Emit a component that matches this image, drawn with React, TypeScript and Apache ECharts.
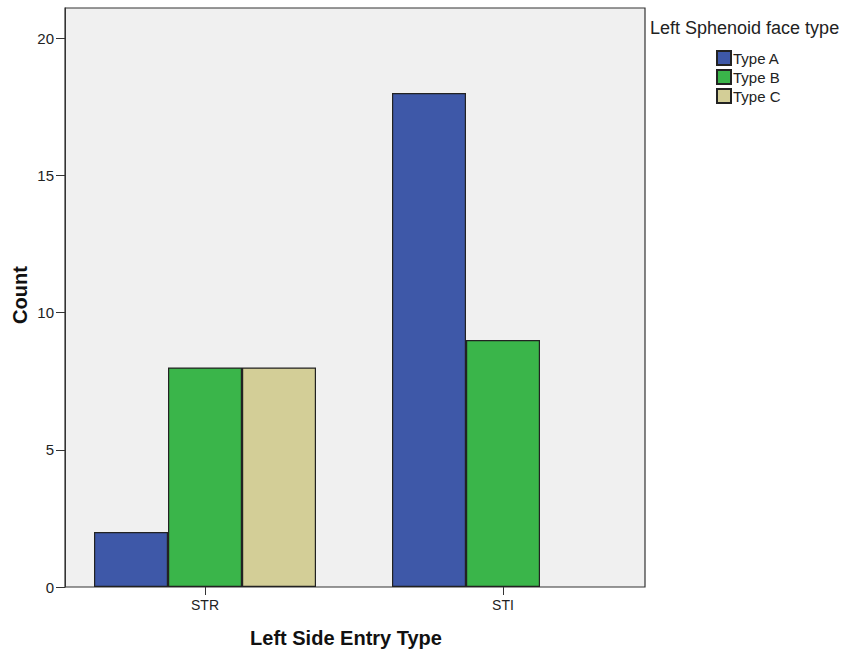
import React, { useEffect, useRef } from "react";
import * as echarts from "echarts";

const categories = ["STR", "STI"];
const seriesNames = ["Type A", "Type B", "Type C"];
const typeA = [2, 18];
const typeB = [8, 9];
const typeC = [8, 0];
const yTicks = [0, 5, 10, 15, 20];
const colors = ["#3e58a8", "#3ab54a", "#d3ce97"];

export default function App() {
  const ref = useRef<HTMLDivElement>(null);
  useEffect(() => {
    if (!ref.current) return;
    const chart = echarts.init(ref.current, null, { renderer: "svg" });
    const font = "Arial, 'Liberation Sans', sans-serif";
    const values = [typeA, typeB, typeC];
    chart.setOption({
      animation: false,
      backgroundColor: "#ffffff",
      textStyle: { fontFamily: font },
      grid: [
        { left: 65, right: 199, top: 8, bottom: 67, show: true, backgroundColor: "#f0f0f0", borderColor: "#333", borderWidth: 1.2 },
        { left: 56, width: 596, top: 8, bottom: 67, show: false },
      ],
      xAxis: [
        { type: "value", gridIndex: 0, min: 0, max: 1, show: false },
        {
          type: "category",
          gridIndex: 1,
          data: categories,
          axisLine: { show: false },
          axisTick: { show: true, alignWithLabel: true, length: 8, lineStyle: { color: "#333" } },
          axisLabel: { color: "#222", fontSize: 14, fontFamily: font, margin: 11 },
        },
      ],
      yAxis: [
        {
          type: "value",
          gridIndex: 0,
          min: 0,
          max: 21.1,
          splitLine: { show: false },
          axisLine: { show: true, lineStyle: { color: "#333" } },
          axisTick: { show: true, length: 9, customValues: yTicks, lineStyle: { color: "#333" } },
          axisLabel: { color: "#222", fontSize: 15, fontFamily: font, margin: 11, customValues: yTicks },
        },
        { type: "value", gridIndex: 1, min: 0, max: 21.1, show: false },
      ],
      legend: {
        orient: "vertical",
        left: 711,
        top: 45,
        itemWidth: 14,
        itemHeight: 14,
        itemGap: 3,
        icon: "rect",
        data: seriesNames,
        textStyle: { fontSize: 15, color: "#222", fontFamily: font, padding: [0, 0, 0, -3] },
      },
      series: seriesNames.map((n, i) => ({
        name: n,
        type: "bar",
        xAxisIndex: 1,
        yAxisIndex: 1,
        data: values[i].map((v) => (v === 0 ? "-" : v)),
        barWidth: 74,
        barGap: "0%",
        itemStyle: { color: colors[i], borderColor: "#222", borderWidth: 1.2 },
      })),
      graphic: [
        { type: "text", left: 650, top: 19, style: { text: "Left Sphenoid face type", fontSize: 18, fill: "#222", fontFamily: font } },
        { type: "text", x: 20, y: 295, rotation: Math.PI / 2, style: { text: "Count", fontSize: 20, fontWeight: "bold", fill: "#111", fontFamily: font, align: "center", verticalAlign: "middle" } },
        { type: "text", x: 346, y: 638, style: { text: "Left Side Entry Type", fontSize: 20, fontWeight: "bold", fill: "#111", fontFamily: font, align: "center", verticalAlign: "middle" } },
      ],
    });
    return () => chart.dispose();
  }, []);
  return <div ref={ref} style={{ position: "fixed", left: 0, top: 0, width: 844, height: 654 }} />;
}
